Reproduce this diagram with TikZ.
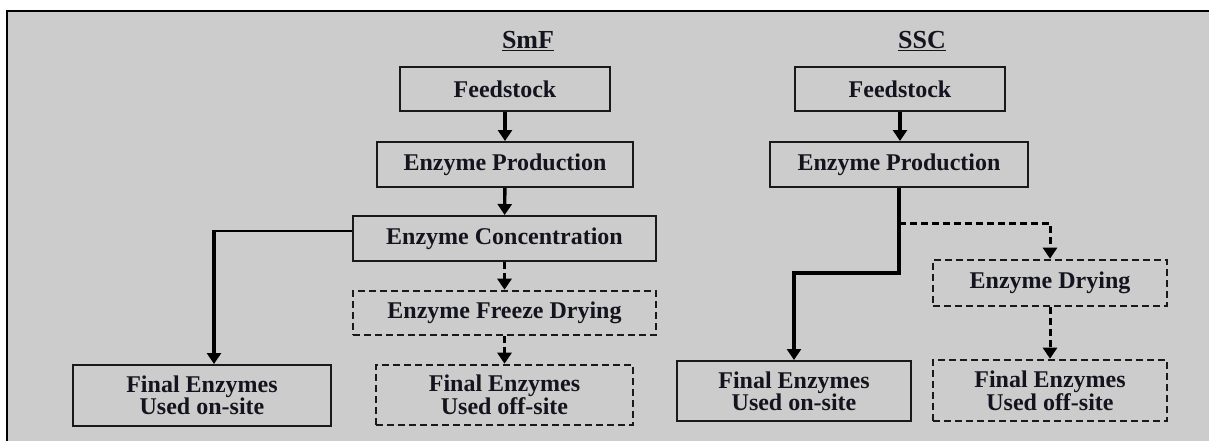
\documentclass[tikz,border=0pt]{standalone}
\usepackage{fontspec}
\setmainfont{Liberation Serif}
\usetikzlibrary{arrows.meta,calc}
\definecolor{panel}{RGB}{204,204,204}
\definecolor{ink}{RGB}{20,20,30}
\begin{document}
\begin{tikzpicture}[x=1pt,y=-1pt,
  every node/.style={font=\fontsize{24}{22}\selectfont\bfseries, text=ink,
                     inner sep=0pt, align=center},
  title/.style={font=\fontsize{26}{26}\selectfont\bfseries},
  box/.style={draw=black!90, line width=2pt},
  dbox/.style={draw=black!90, line width=2.6pt, dash pattern=on 7pt off 4pt},
  flow/.style={line width=3.4pt, -{Triangle[length=11pt,width=14pt]}},
  dflow/.style={line width=3pt, dash pattern=on 7pt off 4pt,
                -{Triangle[length=11pt,width=14pt]}},
  thin link/.style={line width=1.6pt}
]
% page and panel
\useasboundingbox (0,0) rectangle (1209,441);
\fill[white] (0,0) rectangle (1209,441);
\fill[panel] (7,11) rectangle (1215,445);
\draw[line width=2.5pt] (7,445) -- (7,11) -- (1215,11);

% column titles
\node[title] (tsmf) at (528,41) {\underline{SmF}};
\node[title] (tssc) at (922,41) {\underline{SSC}};

% SmF column
\node[box, minimum width=210pt, minimum height=44pt] (f1) at (505,89) {Feedstock};
\node[box, minimum width=256pt, minimum height=45pt] (p1) at (505,164.5) {Enzyme Production};
\node[box, minimum width=303pt, minimum height=45pt] (c1) at (504.5,238.5) {Enzyme Concentration};
\node[dbox, minimum width=303pt, minimum height=44pt] (d1) at (504.5,313) {Enzyme Freeze Drying};
\node[box, minimum width=258pt, minimum height=61pt] (on1) at (202,395.5) {Final Enzymes\\Used on-site};
\node[dbox, minimum width=257pt, minimum height=60pt] (off1) at (504.5,395) {Final Enzymes\\Used off-site};

% SSC column
\node[box, minimum width=210pt, minimum height=44pt] (f2) at (900,89) {Feedstock};
\node[box, minimum width=258pt, minimum height=45pt] (p2) at (899,164.5) {Enzyme Production};
\node[dbox, minimum width=234pt, minimum height=46pt] (ed) at (1050,283) {Enzyme Drying};
\node[box, minimum width=234pt, minimum height=60pt] (on2) at (794,391) {Final Enzymes\\Used on-site};
\node[dbox, minimum width=234pt, minimum height=61pt] (off2) at (1050,390.5) {Final Enzymes\\Used off-site};

% SmF connectors
\draw[flow] (f1) -- (p1);
\draw[flow] (p1) -- (c1);
\draw[dflow] (c1) -- (d1);
\draw[dflow] (d1) -- (off1);
\coordinate (cw) at ($(c1.west)+(0,-7.5)$);
\coordinate (bend1) at (214,231);
\draw[thin link] (cw) -- ([xshift=-1.7pt]bend1);
\draw[flow] ([yshift=-1pt]bend1) -- (bend1 |- on1.north);

% SSC connectors
\draw[flow] (f2) -- (f2 |- p2.north);
\coordinate (split) at (899,223);
\coordinate (step2) at (899,273);
\draw[flow] (p2.south) -- (step2) -| (on2.north);
\draw[dflow] (split) -| (ed.north);
\draw[dflow] (ed) -- (off2);
\end{tikzpicture}
\end{document}
